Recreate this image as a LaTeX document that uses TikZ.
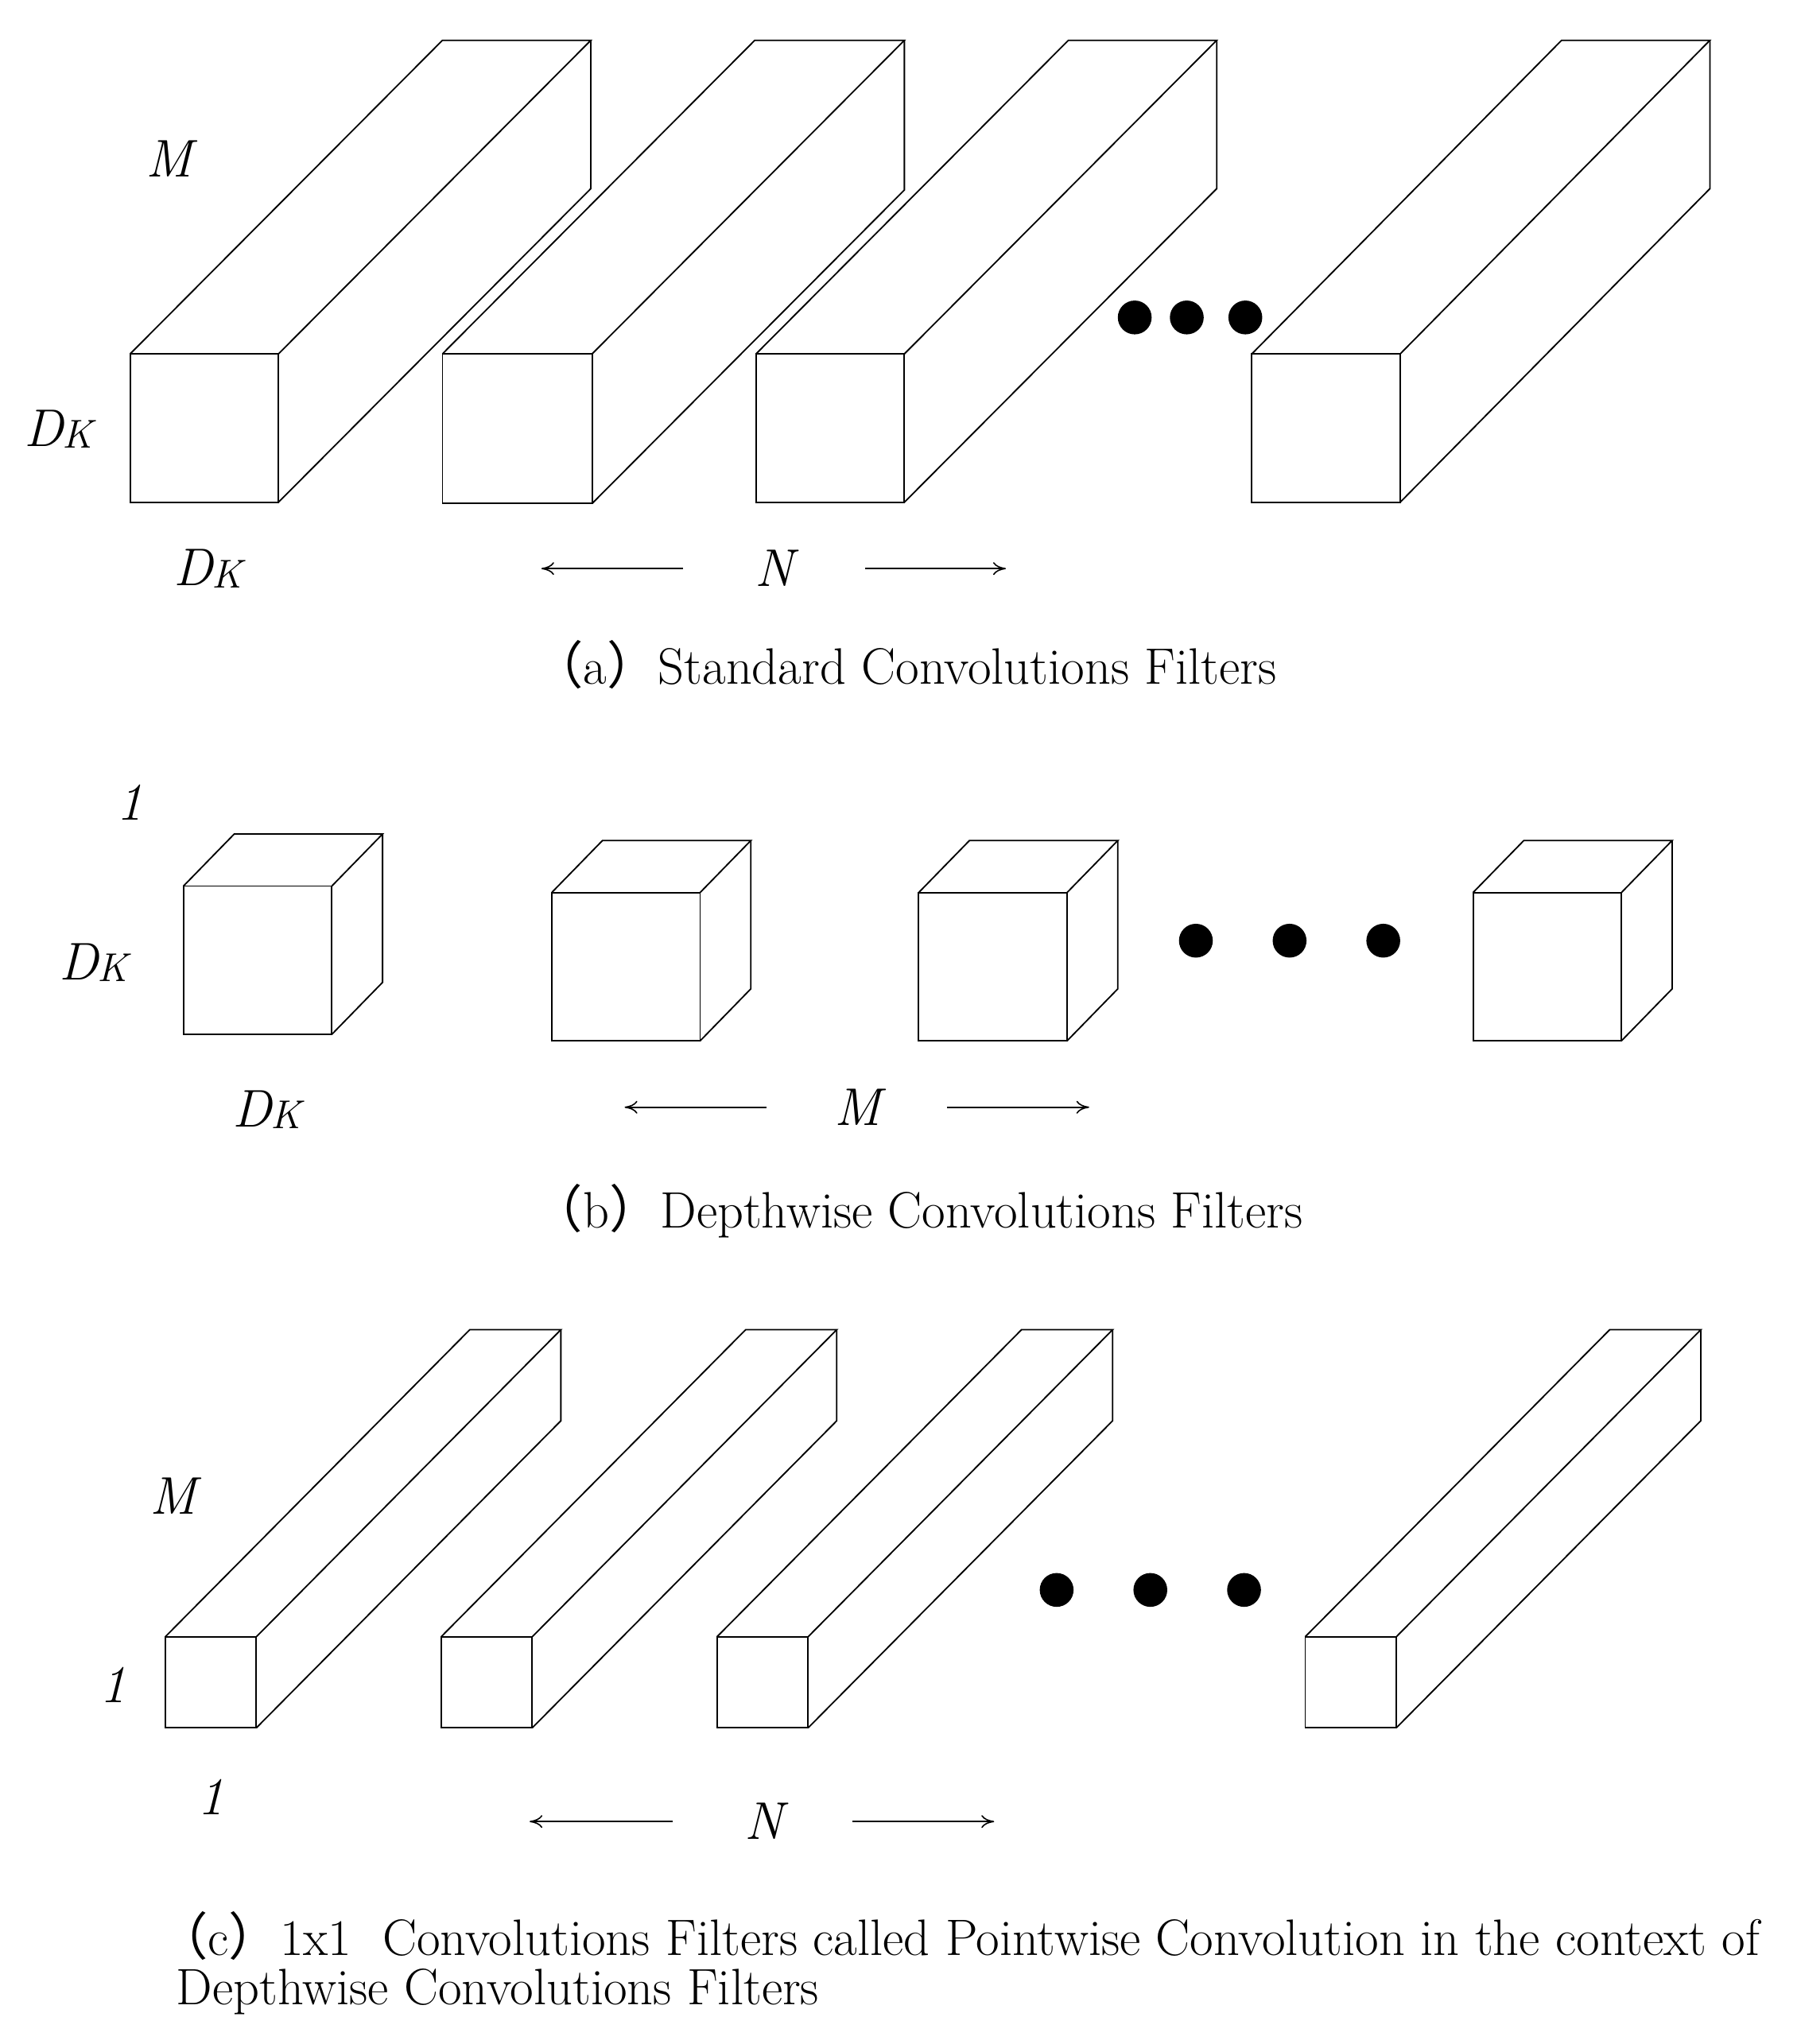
\documentclass[tikz,border=0pt]{standalone}
\usepackage{fontspec}
\newfontfamily\cjk{Noto Sans CJK SC}
\usetikzlibrary{arrows.meta}
\newcommand\prism[5]{%
 \draw[boxline] (#1,#2) rectangle ++(#3,#3);
 \draw[boxline] (#1,#2) -- ++(#4,#5) -- ++(#3,0) -- ++(-#4,-1*#5);
 \draw[boxline] (#1,#2) ++(#3,0) ++(#4,#5) -- ++(0,#3) -- ++(-#4,-1*#5);
}
\begin{document}
\begin{tikzpicture}[x=0.05cm,y=-0.05cm,
 boxline/.style={line width=1.6pt,line join=miter},
 lab/.style={font=\fontsize{58}{66}\selectfont\itshape},
 captxt/.style={font=\fontsize{56}{66}\selectfont},
 arr/.style={line width=1.4pt,-{To[length=14pt,width=14pt]}}]
\useasboundingbox (0,0) rectangle (1384,1571);
% (a)
\prism{100}{272}{114}{240}{-241}
\prism{340}{272}{115}{240}{-241}
\prism{581}{272}{114}{240}{-241}
\prism{962}{272}{114}{238}{-241}
\foreach \x in {872,912,957} \fill (\x,244) circle (13);
\node[lab] (aM) at (130,122) {M};
\node[lab] (aD1) at (45,330) {D\kern-1pt\raisebox{-2pt}{\fontsize{44}{50}\selectfont K}};
\node[lab] (aD2) at (160,437) {D\kern-1pt\raisebox{-2pt}{\fontsize{44}{50}\selectfont K}};
\node[lab] (aN) at (595,437) {N};
\coordinate (a1) at (525,437); \coordinate (a2) at (416,437);
\coordinate (a3) at (665,437); \coordinate (a4) at (773,437);
\draw[arr] (a1) -- (a2); \draw[arr] (a3) -- (a4);
\node[captxt] (ca) at (695,511) {{\cjk （}a{\cjk ）}Standard Convolutions Filters};
% (b)
\prism{141}{681}{114}{39}{-40}
\prism{424}{686}{114}{39}{-40}
\prism{706}{686}{114}{39}{-40}
\prism{1132}{686}{114}{39}{-40}
\foreach \x in {919,991,1063} \fill (\x,723) circle (13);
\node[lab] (b1) at (100,617) {1};
\node[lab] (bD1) at (72,740) {D\kern-1pt\raisebox{-2pt}{\fontsize{44}{50}\selectfont K}};
\node[lab] (bD2) at (205,853) {D\kern-1pt\raisebox{-2pt}{\fontsize{44}{50}\selectfont K}};
\node[lab] (bM) at (659,851) {M};
\coordinate (b1a) at (589,851); \coordinate (b2a) at (480,851);
\coordinate (b3a) at (728,851); \coordinate (b4a) at (837,851);
\draw[arr] (b1a) -- (b2a); \draw[arr] (b3a) -- (b4a);
\node[captxt] (cb) at (705,931) {{\cjk （}b{\cjk ）}Depthwise Convolutions Filters};
% (c)
\prism{127}{1258}{70}{234}{-236}
\prism{339}{1258}{70}{234}{-236}
\prism{551}{1258}{70}{234}{-236}
\prism{1003}{1258}{70}{234}{-236}
\foreach \x in {812,884,956} \fill (\x,1222) circle (13);
\node[lab] (cM) at (133,1150) {M};
\node[lab] (c1) at (87,1295) {1};
\node[lab] (c2) at (162,1381) {1};
\node[lab] (cN) at (587,1400) {N};
\coordinate (c1a) at (517,1400); \coordinate (c2a) at (407,1400);
\coordinate (c3a) at (655,1400); \coordinate (c4a) at (764,1400);
\draw[arr] (c1a) -- (c2a); \draw[arr] (c3a) -- (c4a);
\node[captxt,anchor=west] (cc1) at (118,1488) {{\cjk （}c{\cjk ）}1x1\ \ Convolutions Filters called Pointwise Convolution in the context of};
\node[captxt,anchor=west] (cc2) at (133,1531) {Depthwise Convolutions Filters};
\end{tikzpicture}
\end{document}
